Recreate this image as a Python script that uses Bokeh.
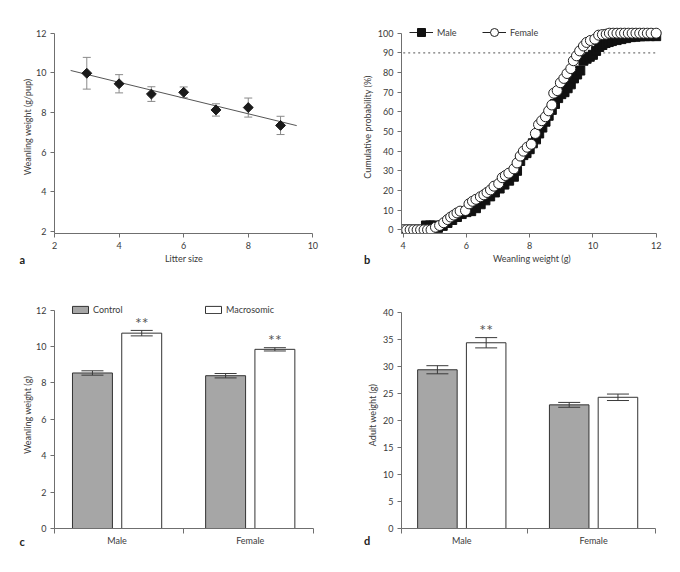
import math
from bokeh.plotting import figure
from bokeh.models import (ColumnDataSource, Whisker, TeeHead, Label, Legend, LegendItem,
                          FixedTicker)
from bokeh.layouts import column, row
from bokeh.core.properties import value
from bokeh.embed import file_html
from bokeh.resources import INLINE

# ---------------- data ----------------
# Panel a: weanling weight vs litter size
litter_size = [3, 4, 5, 6, 7, 8, 9]
wean_per_pup = [9.98, 9.45, 8.93, 9.02, 8.13, 8.25, 7.35]
wean_per_pup_err = [0.80, 0.46, 0.37, 0.27, 0.31, 0.48, 0.46]
fit_x = [2.5, 9.5]
fit_y = [10.12, 7.34]

# Panel b: cumulative distribution of weanling weight
male_w = [4.0, 4.1, 4.2, 4.3, 4.4, 4.5, 4.6, 4.72, 4.85, 4.97, 5.1, 5.25, 5.4, 5.55, 5.7, 5.85,
          6.0, 6.15, 6.3, 6.45, 6.6, 6.75, 6.9, 7.05, 7.2, 7.35, 7.5, 7.6, 7.7, 7.8, 7.9,
          8.0, 8.1, 8.2, 8.3, 8.4, 8.5, 8.6, 8.7, 8.8, 8.9, 9.0, 9.1, 9.2, 9.3, 9.4, 9.5, 9.6,
          9.7, 9.8, 9.9, 10.0, 10.1, 10.2, 10.3, 10.4, 10.5, 10.6, 10.75, 10.9, 11.05, 11.2,
          11.35, 11.5, 11.65, 11.8, 12.0]
male_cum = [0, 0, 0, 0, 0, 0, 0, 2.2, 2.2, 2.2, 1.0, 2.0, 3.5, 5.0, 6.5, 8.0,
            9.0, 9.5, 11, 13, 15, 17, 19, 21, 23, 25, 27, 30, 35, 38, 39,
            41, 44, 46, 49, 52, 55, 58, 61, 64, 67, 69, 70, 72, 74, 77, 79, 81,
            86, 87, 88, 89, 91, 93, 94, 95, 95.5, 96, 96.5, 97, 97.5, 98,
            98.2, 98.4, 98.5, 98.5, 98.5]
female_w = [4.0, 4.11, 4.22, 4.33, 4.44, 4.55, 4.66, 4.77, 4.88, 5.02, 5.15, 5.28, 5.4, 5.5,
            5.6, 5.7, 5.8, 5.97, 6.08, 6.19, 6.3, 6.44, 6.55, 6.65, 6.76, 6.87, 7.02, 7.13,
            7.23, 7.34, 7.5, 7.6, 7.7, 7.8, 7.92, 8.05, 8.18, 8.28, 8.38, 8.5, 8.6, 8.7, 8.76,
            8.87, 8.97, 9.08, 9.18, 9.3, 9.38, 9.48, 9.58, 9.7, 9.8, 9.92, 10.06, 10.18, 10.3,
            10.42, 10.52, 10.64, 10.76, 10.88, 11.0, 11.12, 11.24, 11.36, 11.48, 11.6, 11.72,
            11.84, 12.0]
female_cum = [0, 0, 0, 0, 0, 0, 0, 0, 0, 1.3, 2.2, 3.6, 5.2, 6.5,
              7.5, 8.6, 9.5, 9.8, 13.2, 14.5, 15.5, 16.8, 17.8, 19, 20.3, 22.2, 23.5, 26.5,
              27.6, 28.8, 31, 34, 37.5, 40, 42, 43.5, 49, 53.5, 55.5, 57.5, 60.5, 63.5, 69.5,
              70.8, 74.8, 77, 79.5, 82, 86, 88.5, 91, 93.5, 95.3, 96.3, 97, 99, 99.3,
              99.5, 100, 100, 100, 100, 100, 100, 100, 100, 100, 100, 100,
              100, 100]
threshold = 90

# Panels c, d: group bars
groups = ["Male", "Female"]
series = ["Control", "Macrosomic"]
wean_control = [8.55, 8.40]
wean_control_err = [0.12, 0.12]
wean_macro = [10.74, 9.85]
wean_macro_err = [0.15, 0.09]
wean_stars = ["**", "**"]
adult_control = [29.4, 22.9]
adult_control_err = [0.75, 0.45]
adult_macro = [34.4, 24.3]
adult_macro_err = [0.95, 0.6]
adult_stars = ["**", ""]

# ---------------- style ----------------
FONT = "Lato"
FS = "9px"
TXT = "#3a3a3a"
AX = "#6f6f6f"
GRAY_FILL = "#a6a6a6"
OUT = "#333333"


def style(p, y_label_standoff=2, x_label_standoff=2):
    p.outline_line_color = None
    p.xgrid.grid_line_color = None
    p.ygrid.grid_line_color = None
    p.background_fill_color = "white"
    p.border_fill_color = "white"
    for ax in p.axis:
        ax.axis_line_color = AX
        ax.major_tick_line_color = AX
        ax.minor_tick_line_color = None
        ax.major_tick_out = 4
        ax.major_tick_in = 0
        ax.major_label_text_font = FONT
        ax.major_label_text_font_size = FS
        ax.major_label_text_color = TXT
        ax.major_label_standoff = 4
        ax.axis_label_text_font = FONT
        ax.axis_label_text_font_size = FS
        ax.axis_label_text_color = TXT
        ax.axis_label_text_font_style = "normal"
    p.yaxis.axis_label_standoff = y_label_standoff
    p.xaxis.axis_label_standoff = x_label_standoff


def panel_label(p, text, x, y):
    # placed in the left side panel so that it is not clipped to the frame
    p.add_layout(Label(x=x, y=y, text=text, text_font=FONT, text_font_size="11px",
                       text_font_style="bold", text_color="#222222",
                       text_align="center", text_baseline="middle"), "left")


def make_fig(w, h, xr, yr, left, right, top, bottom):
    return figure(width=w, height=h, x_range=xr, y_range=yr, title=None,
                  output_backend="svg", toolbar_location=None,
                  min_border_left=left, min_border_right=right,
                  min_border_top=top, min_border_bottom=bottom)


# ---------------- panel a ----------------
a_y0, a_y1 = 1.9, 12.64
pa = make_fig(340, 286, (2, 10.02), (a_y0, a_y1), 54, 27, 20, 53)
src_a = ColumnDataSource(dict(
    x=litter_size, y=wean_per_pup,
    lo=[m - e for m, e in zip(wean_per_pup, wean_per_pup_err)],
    hi=[m + e for m, e in zip(wean_per_pup, wean_per_pup_err)]))
pa.line(fit_x, fit_y, line_color="#555555", line_width=1)
EB = "#8a8a8a"
pa.add_layout(Whisker(source=src_a, base="x", lower="lo", upper="hi", line_color=EB,
                      upper_head=TeeHead(size=8, line_color=EB),
                      lower_head=TeeHead(size=8, line_color=EB)))
pa.scatter("x", "y", source=src_a, marker="square", angle=math.pi / 4, size=7,
           fill_color="#1a1a1a", line_color="#1a1a1a")
style(pa, 0, 1)
pa.xaxis.ticker = [2, 4, 6, 8, 10]
pa.xaxis.bounds = (2, 10)
pa.yaxis.ticker = [2, 4, 6, 8, 10, 12]
pa.yaxis.bounds = (a_y0, 12)
pa.xaxis.axis_label = "Litter size"
pa.yaxis.axis_label = "Weanling weight (g/pup)"
panel_label(pa, "a", 1.0, 0.59)

# ---------------- panel b ----------------
b_x0, b_y0 = 3.946, -1.88
pb = make_fig(324, 286, (b_x0, 12.2), (b_y0, 106.46), 61, 2, 20, 53)
x_hi = 12
pb.line([4, x_hi], [threshold, threshold], line_color="#777777", line_width=1.2,
        line_dash="2 3")
rm = pb.scatter(male_w, male_cum, marker="square", size=9, fill_color="#111111",
                line_color="#111111")
rf = pb.scatter(female_w, female_cum, marker="circle", size=10, fill_color="white",
                line_color="#222222", line_width=1)
# single-point lines: invisible in the plot, give the legend its line segment
lm = pb.line(x=male_w[:1], y=male_cum[:1], line_color="#222222", line_width=1)
lf = pb.line(x=female_w[:1], y=female_cum[:1], line_color="#222222", line_width=1)
style(pb, 2, 1)
pb.xaxis.ticker = [4, 6, 8, 10, 12]
pb.xaxis.bounds = (b_x0, x_hi)
pb.yaxis.ticker = [0, 10, 20, 30, 40, 50, 60, 70, 80, 90, 100]
pb.yaxis.bounds = (b_y0, 100)
pb.xaxis.axis_label = "Weanling weight (g)"
pb.yaxis.axis_label = "Cumulative probability (%)"
leg_b = Legend(items=[LegendItem(label="Male", renderers=[lm, rm]),
                      LegendItem(label="Female", renderers=[lf, rf])],
               orientation="horizontal", location=(8, 191), glyph_width=24,
               glyph_height=20, label_standoff=4, label_width=45, spacing=0,
               padding=0, margin=0, border_line_color=None, background_fill_alpha=0,
               label_text_font=FONT, label_text_font_size=FS, label_text_color=TXT)
pb.add_layout(leg_b)
panel_label(pb, "b", 2.86, -15.1)


# ---------------- panels c, d ----------------
def bar_panel(w, xr, yr, borders, ctrl, ctrl_err, mac, mac_err, stars, yticks, ylabel,
              legend, axis_hi, lab_standoff):
    p = make_fig(w, 270, xr, yr, *borders)
    pos = [i + 1 for i in range(len(groups))]
    off, bw = 0.185, 0.30
    src = ColumnDataSource(dict(
        cx=[q - off for q in pos], mx=[q + off for q in pos],
        ctrl=ctrl, mac=mac,
        clo=[m - e for m, e in zip(ctrl, ctrl_err)],
        chi=[m + e for m, e in zip(ctrl, ctrl_err)],
        mlo=[m - e for m, e in zip(mac, mac_err)],
        mhi=[m + e for m, e in zip(mac, mac_err)],
        stars=stars))
    rc = p.vbar(x="cx", top="ctrl", width=bw, source=src, fill_color=GRAY_FILL,
                line_color=OUT, line_width=1)
    rmac = p.vbar(x="mx", top="mac", width=bw, source=src, fill_color="white",
                  line_color=OUT, line_width=1)
    for b, lo, hi in (("cx", "clo", "chi"), ("mx", "mlo", "mhi")):
        p.add_layout(Whisker(source=src, base=b, lower=lo, upper=hi, line_color="#3a3a3a",
                             upper_head=TeeHead(size=22, line_color="#3a3a3a"),
                             lower_head=TeeHead(size=22, line_color="#3a3a3a"),
                             level="annotation"))
    p.text(x="mx", y="mhi", text="stars", source=src, text_align="center",
           text_baseline="alphabetic", y_offset=-8, text_font=value(FONT),
           text_font_size="16px", text_color="#555555")
    style(p, lab_standoff, 2)
    p.xaxis.ticker = FixedTicker(ticks=pos, minor_ticks=[xr[0] + 0.002, 1.5, axis_hi - 0.002])
    p.xaxis.bounds = (xr[0], axis_hi)
    p.xaxis.major_label_overrides = {q: g for q, g in zip(pos, groups)}
    p.xaxis.major_tick_out = 0
    p.xaxis.minor_tick_out = 5
    p.xaxis.minor_tick_in = 0
    p.xaxis.minor_tick_line_color = AX
    p.xaxis.major_label_standoff = 1
    p.yaxis.ticker = yticks
    p.yaxis.bounds = (yticks[0], yticks[-1])
    p.yaxis.axis_label = ylabel
    if legend:
        lg = Legend(items=[LegendItem(label=series[0], renderers=[rc]),
                           LegendItem(label=series[1], renderers=[rmac])],
                    orientation="horizontal", location=(16, 213), glyph_width=20,
                    glyph_height=9, label_standoff=3, label_width=110, spacing=0,
                    padding=0, margin=0, border_line_color=None, background_fill_alpha=0,
                    label_text_font=FONT, label_text_font_size=FS,
                    label_text_color=TXT)
        p.add_layout(lg)
    return p


pc = bar_panel(340, (0.53, 2.475), (0, 12.48), (54, 27, 15, 28), wean_control,
               wean_control_err, wean_macro, wean_macro_err, wean_stars,
               [0, 2, 4, 6, 8, 10, 12], "Weanling weight (g)", True, 2.475, 0)
panel_label(pc, "c", 0.287, -0.69)

pd_ = bar_panel(324, (0.5426, 2.523), (0, 42.04), (61, 2, 15, 28), adult_control,
                adult_control_err, adult_macro, adult_macro_err, adult_stars,
                [0, 5, 10, 15, 20, 25, 30, 35, 40], "Adult weight (g)", False, 2.47, 2)
panel_label(pd_, "d", 0.282, -2.22)

layout = column(row(pa, pb), row(pc, pd_))
open("out.html", "w").write(file_html(layout, INLINE))
